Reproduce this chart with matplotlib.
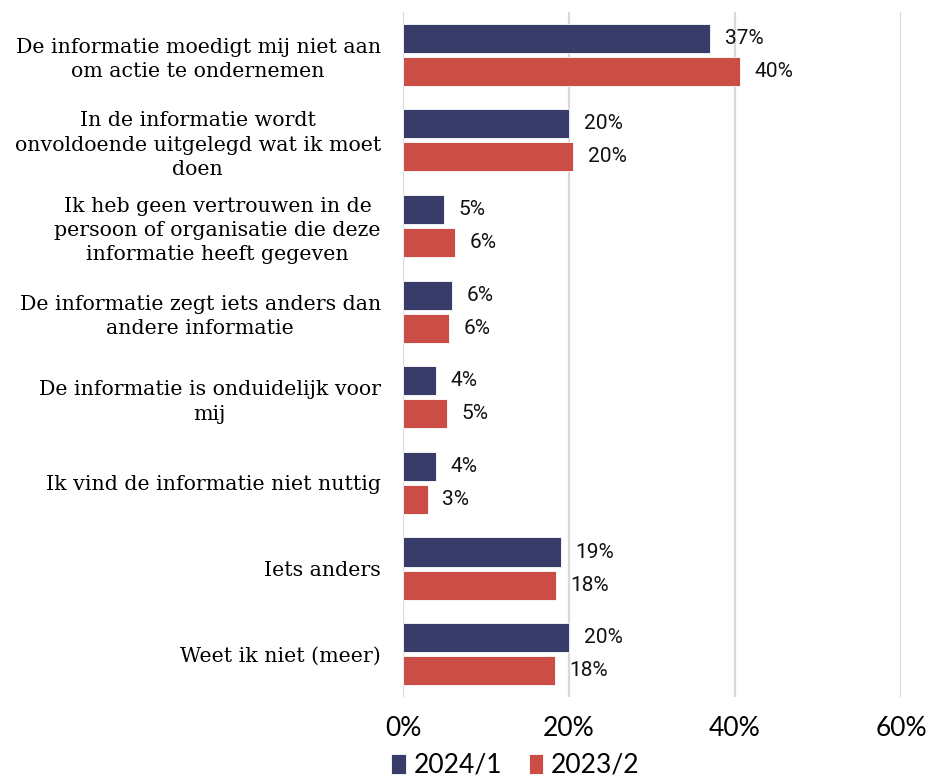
import matplotlib.pyplot as plt
from matplotlib import font_manager as fm
import numpy as np

categories = [
    'De informatie moedigt mij niet aan\nom actie te ondernemen',
    'In de informatie wordt\nonvoldoende uitgelegd wat ik moet\ndoen',
    'Ik heb geen vertrouwen in de\npersoon of organisatie die deze\ninformatie heeft gegeven',
    'De informatie zegt iets anders dan\nandere informatie',
    'De informatie is onduidelijk voor\nmij',
    'Ik vind de informatie niet nuttig',
    'Iets anders',
    'Weet ik niet (meer)',
]
vals_2024 = [37.0, 20.0, 4.9, 5.9, 4.0, 4.0, 19.0, 20.0]
vals_2023 = [40.6, 20.5, 6.3, 5.5, 5.3, 3.0, 18.4, 18.3]
labels_2024 = ['37%', '20%', '5%', '6%', '4%', '4%', '19%', '20%']
labels_2023 = ['40%', '20%', '6%', '6%', '5%', '3%', '18%', '18%']

blue = '#383c68'
red = '#cb4d45'

# pick the plain Roboto Regular file, not a condensed/variable cut
roboto = None
for f in fm.fontManager.ttflist:
    if f.name == 'Roboto' and f.style == 'normal' and f.weight in (400, 'normal', 'regular') \
            and 'ondensed' not in f.fname and 'Regular' in f.fname:
        roboto = f.fname
        break
if roboto:
    lbl_prop = fm.FontProperties(fname=roboto, size=15)
else:
    lbl_prop = fm.FontProperties(family='Roboto', size=15)

fig = plt.figure(figsize=(9.32, 7.77), dpi=100)
ax = fig.add_axes([0.4324, 0.103, 0.5343, 0.8816])

y = np.arange(len(categories))
h = 0.34
off = 0.193
ax.barh(y - off, vals_2024, height=h, color=blue, edgecolor='white', linewidth=0.6, label='2024/1', zorder=3)
ax.barh(y + off, vals_2023, height=h, color=red, edgecolor='white', linewidth=0.6, label='2023/2', zorder=3)

for yi, v, t in zip(y - off, vals_2024, labels_2024):
    ax.annotate(t, (v, yi), xytext=(10.5, 0), textcoords='offset points',
                va='center', ha='left', fontproperties=lbl_prop, color='#111111')
for yi, v, t in zip(y + off, vals_2023, labels_2023):
    ax.annotate(t, (v, yi), xytext=(10.5, 0), textcoords='offset points',
                va='center', ha='left', fontproperties=lbl_prop, color='#111111')

ax.set_xlim(0, 60)
ax.set_ylim(len(categories) - 0.5, -0.5)
ax.set_xticks([0, 20, 40, 60])
ax.set_xticklabels(['0%', '20%', '40%', '60%'], family='Lato', fontsize=19)
ax.set_yticks(y)
ax.set_yticklabels(categories, family='DejaVu Serif', fontsize=14.8, multialignment='center',
                   linespacing=1.35)
ax.tick_params(axis='both', length=0)
ax.tick_params(axis='x', pad=14)
ax.tick_params(axis='y', pad=16)
for s in ax.spines.values():
    s.set_visible(False)
ax.grid(axis='x', color='#d9d9d9', linewidth=1.6, zorder=0)

fig.legend(loc='center', bbox_to_anchor=(0.553, 0.015), ncol=2, frameon=False,
           prop={'family': 'Lato', 'size': 19}, handlelength=0.55, handleheight=0.8,
           handletextpad=0.3, columnspacing=1.0, borderaxespad=0)

fig.savefig('out.png', dpi=100)
